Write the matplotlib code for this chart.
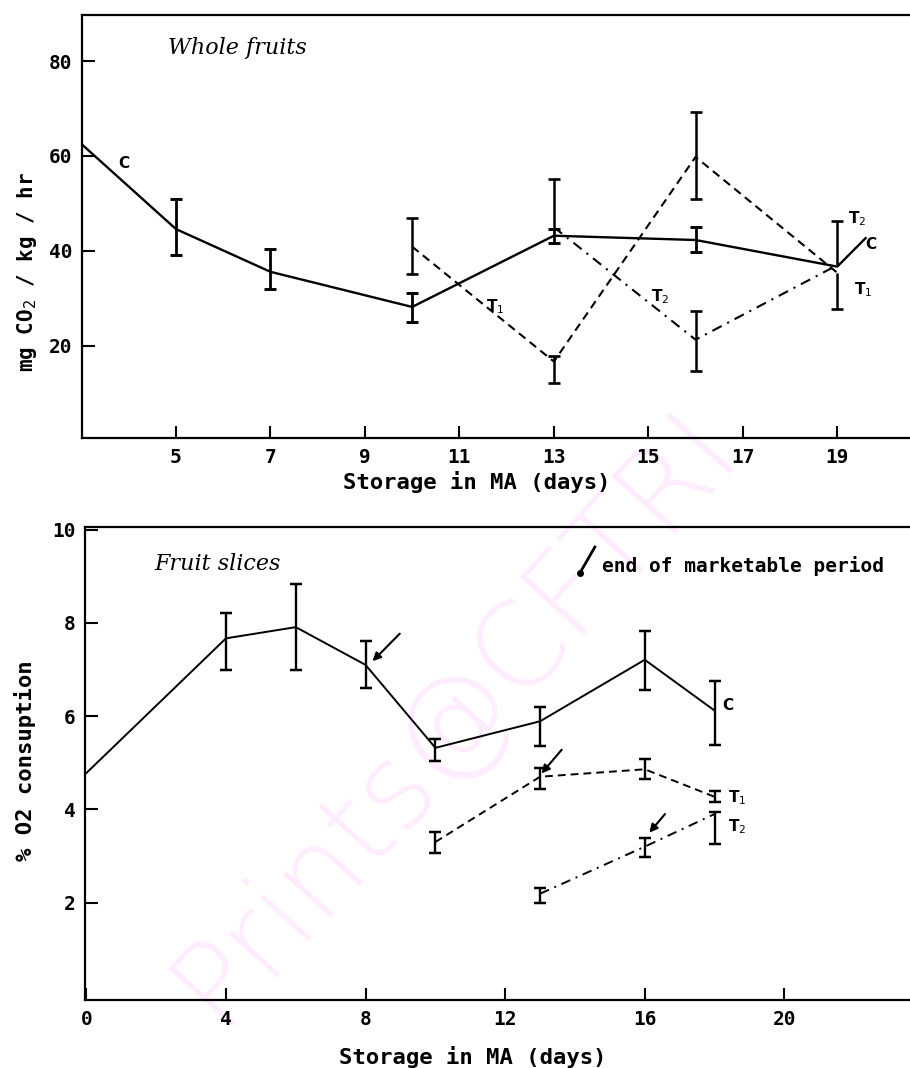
import numpy as np
import matplotlib.pyplot as plt

# whole fruits: CO2 output (mg CO2/kg/hr)
wf_c_x = [3, 5, 7, 10, 13, 16, 19, 19.6]
wf_c_y = [62.5, 44.6, 35.6, 28.2, 43.2, 42.3, 36.7, 42.7]
wf_c_lo = [np.nan, 39.2, 32.0, 25.1, 41.7, 39.8, np.nan, np.nan]
wf_c_hi = [np.nan, 51.0, 40.4, 31.2, 44.6, 45.0, np.nan, np.nan]

wf_t1_x = [10, 13, 16, 19]
wf_t1_y = [40.9, 16.7, 59.8, 35.4]
wf_t1_lo = [35.2, 12.2, 50.9, 27.8]
wf_t1_hi = [46.9, 17.9, 69.3, 35.4]

wf_t2_x = [13, 16, 19]
wf_t2_y = [45.0, 21.3, 37.0]
wf_t2_lo = [45.0, 14.7, 37.0]
wf_t2_hi = [55.2, 27.4, 46.3]

# fruit slices: % O2 consumption
fs_c_x = [0, 4, 6, 8, 10, 13, 16, 18]
fs_c_y = [4.78, 7.67, 7.91, 7.10, 5.32, 5.89, 7.21, 6.12]
fs_c_lo = [np.nan, 7.00, 7.00, 6.60, 5.04, 5.36, 6.56, 5.38]
fs_c_hi = [np.nan, 8.22, 8.83, 7.61, 5.51, 6.20, 7.82, 6.76]

fs_t1_x = [10, 13, 16, 18]
fs_t1_y = [3.30, 4.70, 4.86, 4.27]
fs_t1_lo = [3.06, 4.44, 4.65, 4.15]
fs_t1_hi = [3.52, 4.89, 5.08, 4.40]

fs_t2_x = [13, 16, 18]
fs_t2_y = [2.19, 3.20, 3.90]
fs_t2_lo = [2.00, 2.97, 3.25]
fs_t2_hi = [2.31, 3.39, 3.94]

# end of marketable period arrows (tail -> head)
arrows = [((8.98, 7.77), (8.2, 7.18)),
          ((13.62, 5.28), (13.04, 4.77)),
          ((16.58, 3.90), (16.13, 3.50))]

top_xticks = [5, 7, 9, 11, 13, 15, 17, 19]
top_yticks = [20, 40, 60, 80]
bot_xticks = [0, 4, 8, 12, 16, 20]
bot_yticks = [2, 4, 6, 8, 10]

SOLID = '-'
DASH = (0, (4, 2.6))
DASHDOT = (0, (5, 3, 1, 3))
MONO = 'DejaVu Sans Mono'


def series(ax, x, y, lo, hi, ls, lw, ms):
    ax.plot(x, y, color='black', lw=lw, ls=ls, zorder=3)
    for xi, yi, l, h in zip(x, y, lo, hi):
        if np.isnan(l):
            continue
        ax.vlines(xi, l, h, color='black', lw=lw + 0.3, zorder=3)
        for e in (l, h):
            if abs(e - yi) > 1e-9:
                ax.plot([xi], [e], marker='_', ms=ms, mew=lw + 0.4,
                        color='black', zorder=3)


def style(ax):
    ax.patch.set_alpha(0)
    ax.spines['right'].set_visible(False)
    for s in ('left', 'bottom', 'top'):
        ax.spines[s].set_linewidth(1.6)
    ax.tick_params(direction='in', length=9, width=1.5, pad=7)
    for lab in ax.get_xticklabels() + ax.get_yticklabels():
        lab.set_fontweight('bold')
        lab.set_family(MONO)
        lab.set_fontsize(14)


fig = plt.figure(figsize=(9.1, 10.68), dpi=100)

# watermark behind everything
fig.text(0.5, 0.33, 'Prints@CFTRI', rotation=48, fontsize=84,
         fontweight='light', color='#ffedff', ha='center', va='center',
         zorder=-10)

# top panel
ax1 = fig.add_axes([0.0901, 0.5899, 0.9099, 0.3961])
series(ax1, wf_c_x, wf_c_y, wf_c_lo, wf_c_hi, SOLID, 1.7, 8)
series(ax1, wf_t1_x, wf_t1_y, wf_t1_lo, wf_t1_hi, DASH, 1.5, 8)
series(ax1, wf_t2_x, wf_t2_y, wf_t2_lo, wf_t2_hi, DASHDOT, 1.5, 8)
ax1.set_xlim(3.01, 20.54)
ax1.set_ylim(0.6, 89.7)
ax1.set_xticks(top_xticks)
ax1.set_yticks(top_yticks)
style(ax1)
ax1.text(4.83, 82.7, 'Whole fruits', family='DejaVu Serif', style='italic',
         fontsize=16, va='center')
lab_kw = dict(fontsize=11, fontweight='bold', ha='center', va='center')
ax1.text(3.9, 58.5, 'C', **lab_kw)
ax1.text(11.76, 28.2, 'T$_1$', **lab_kw)
ax1.text(15.25, 30.3, 'T$_2$', **lab_kw)
ax1.text(19.41, 46.9, 'T$_2$', **lab_kw)
ax1.text(19.7, 41.3, 'C', **lab_kw)
ax1.text(19.55, 31.8, 'T$_1$', **lab_kw)
fig.text(0.524, 0.549, 'Storage in MA (days)', fontsize=16, family=MONO,
         fontweight='bold', ha='center', va='center')
fig.text(0.03, 0.745, 'mg CO$_2$ / kg / hr', fontsize=15, family=MONO,
         fontweight='bold', rotation=90, ha='center', va='center')

# bottom panel
ax2 = fig.add_axes([0.0934, 0.0637, 0.9066, 0.4429])
series(ax2, fs_c_x, fs_c_y, fs_c_lo, fs_c_hi, SOLID, 1.4, 8)
series(ax2, fs_t1_x, fs_t1_y, fs_t1_lo, fs_t1_hi, DASH, 1.4, 8)
series(ax2, fs_t2_x, fs_t2_y, fs_t2_lo, fs_t2_hi, DASHDOT, 1.4, 8)
for tail, head in arrows:
    ax2.annotate('', xy=head, xytext=tail,
                 arrowprops=dict(arrowstyle='-|>', color='black', lw=1.5,
                                 mutation_scale=12, shrinkA=0, shrinkB=0))
ax2.set_xlim(-0.04, 23.6)
ax2.set_ylim(-0.09, 10.06)
ax2.set_xticks(bot_xticks)
ax2.set_yticks(bot_yticks)
style(ax2)
ax2.text(1.96, 9.27, 'Fruit slices', family='DejaVu Serif', style='italic',
         fontsize=16, va='center')
ax2.plot([14.14, 14.57], [9.07, 9.63], color='black', lw=2)
ax2.plot([14.14], [9.07], marker='o', ms=4, color='black')
ax2.text(14.77, 9.23, 'end of marketable period', fontsize=14, family=MONO,
         fontweight='bold', va='center')
ax2.text(18.37, 6.23, 'C', **lab_kw)
ax2.text(18.65, 4.25, 'T$_1$', **lab_kw)
ax2.text(18.65, 3.62, 'T$_2$', **lab_kw)
fig.text(0.52, 0.0103, 'Storage in MA (days)', fontsize=16, family=MONO,
         fontweight='bold', ha='center', va='center')
fig.text(0.027, 0.288, '% O2 consuption', fontsize=16, family=MONO,
         fontweight='bold', rotation=90, ha='center', va='center')

fig.savefig('out.png', dpi=100)
